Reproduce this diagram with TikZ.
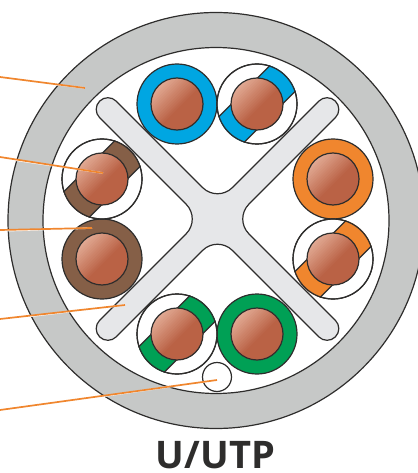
\documentclass[tikz,border=0pt]{standalone}
\usepackage{fontspec}
\setmainfont{Open Sans}
\usetikzlibrary{positioning}
\definecolor{inkcolor}{RGB}{46,45,44}
\definecolor{sheathcolor}{RGB}{198,200,199}
\definecolor{fillercolor}{RGB}{230,231,233}
\definecolor{leadcolor}{RGB}{240,134,46}
\definecolor{pairblue}{RGB}{0,166,226}
\definecolor{pairorange}{RGB}{240,134,46}
\definecolor{pairgreen}{RGB}{0,160,85}
\definecolor{pairbrown}{RGB}{133,95,71}
\definecolor{copperlight}{RGB}{226,170,148}
\definecolor{copperdark}{RGB}{186,98,69}
% band of colour across an insulation, clipped by its circle
\newcommand{\wireband}[2]{
    \begin{scope}
        \clip (#1) circle (40.5pt);
        \node[draw=inkcolor, line width=1.2pt, fill=#2, rotate=45, minimum width=100pt, minimum height=36pt] at (#1) {};
    \end{scope}
}
% copper conductor, light towards the upper left
\newcommand{\copperwire}[1]{
    \begin{scope}[shift={(#1)}, rotate=-45, x=1pt, y=1pt]
        \clip (0,0) circle (26pt);
        \foreach \i in {0,...,15} {
            \pgfmathtruncatemacro{\pct}{100-\i*100/15}
            \fill[copperlight!\pct!copperdark] (-26+2*\i,-27) rectangle (27,27);
        }
    \end{scope}
    \node[core] at (#1) {};
}
\begin{document}
\begin{tikzpicture}[
    x=1pt, y=-1pt,
    round/.style={draw=inkcolor, line width=1.2pt, circle, inner sep=0pt},
    jacket/.style={round, minimum size=80pt},
    core/.style={round, minimum size=52pt},
    lead/.style={line width=1.7pt, leadcolor},
    leadglow/.style={line width=1.6pt, white, yshift=-0.9pt}
]
    \useasboundingbox (0,0) rectangle (417,473);

    % Sheath
    \node[round, fill=sheathcolor, minimum size=416pt] (sheath) at (216,220.5) {};
    \node[round, fill=white, minimum size=346pt] (inner) at (216,220.5) {};

    % Cross filler
    \begin{scope}[shift={(217.5,219)}, rotate=45, x=1pt, y=1pt]
        \draw[draw=inkcolor, line width=1.2pt, fill=fillercolor]
            (155,-11.7) -- (32.7,-11.7) arc (90:180:21pt)
            -- (11.7,-155) arc (0:-180:11.7pt)
            -- (-11.7,-32.7) arc (0:90:21pt)
            -- (-155,-11.7) arc (270:90:11.7pt)
            -- (-32.7,11.7) arc (-90:0:21pt)
            -- (-11.7,155) arc (180:0:11.7pt)
            -- (11.7,32.7) arc (180:270:21pt)
            -- (155,11.7) arc (90:-90:11.7pt) -- cycle;
    \end{scope}

    % Insulations
    \node[jacket, fill=pairblue] (blue) at (177,104) {};
    \node[jacket, fill=white] (blueband) at (257,104) {};
    \wireband{blueband}{pairblue}
    \node[jacket] at (257,104) {};

    \node[jacket, fill=pairorange] (orange) at (333,179) {};
    \node[jacket, fill=white] (orangeband) at (333,259) {};
    \wireband{orangeband}{pairorange}
    \node[jacket] at (333,259) {};

    \node[jacket, fill=pairgreen] (green) at (257,334) {};
    \node[jacket, fill=white] (greenband) at (177,334) {};
    \wireband{greenband}{pairgreen}
    \node[jacket] at (177,334) {};

    \node[jacket, fill=pairbrown] (brown) at (102,259) {};
    \node[jacket, fill=white] (brownband) at (102,179) {};
    \wireband{brownband}{pairbrown}
    \node[jacket] at (102,179) {};

    % Conductors
    \foreach \wire in {blue,blueband,orange,orangeband,green,greenband,brown,brownband} {
        \copperwire{\wire}
    }

    % Drain wire
    \node[round, fill=white, minimum size=29pt] (drain) at (217,377) {};

    % Leaders
    \coordinate (sheathend) at (85,88);
    \coordinate (bandend) at (103,173);
    \coordinate (brownend) at (92,228);
    \coordinate (fillerend) at (125,305);
    \coordinate (drainend) at (217,380);
    \foreach \ya/\target in {77/sheathend,157/bandend,230/brownend,319/fillerend,410/drainend} {
        \draw[leadglow] (0,\ya) -- (\target);
        \draw[lead] (0,\ya) -- (\target);
    }

    % Title
    \node[font=\bfseries\fontsize{38}{38}\selectfont, text=inkcolor, inner sep=0pt] (title) at (215.5,455.5) {U/UTP};
\end{tikzpicture}
\end{document}
